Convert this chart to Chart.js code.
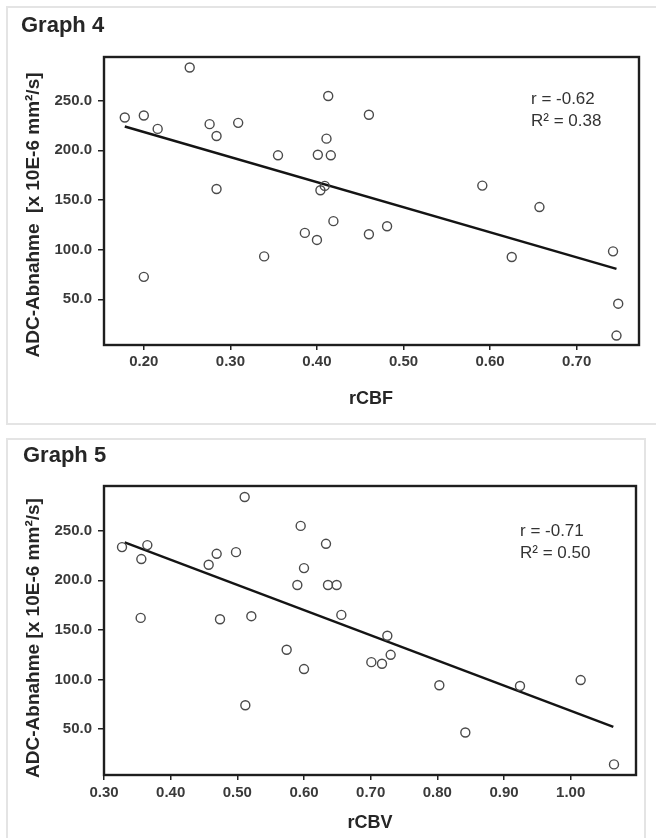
<!DOCTYPE html>
<html>
<head>
<meta charset="utf-8">
<script src="https://cdn.jsdelivr.net/npm/chart.js@4"></script>
<style>
  body { margin: 0; background: #fff; font-family: "Liberation Sans", Arial, sans-serif; }
  #page { position: relative; width: 656px; height: 838px; overflow: hidden; }
  .frame { position: absolute; border: 2px solid #e4e4e4; box-sizing: border-box; }
  .box { position: absolute; left: 0; width: 656px; }
  .gtitle { position: absolute; font-weight: bold; font-size: 22px; color: #262626; }
  .ytitle { position: absolute; font-weight: bold; font-size: 19px; color: #262626; white-space: pre;
            transform: translate(-50%, -50%) rotate(-90deg); }
  .xtitle { position: absolute; font-weight: bold; font-size: 18px; color: #262626; transform: translate(-50%, -50%); }
  .note { position: absolute; font-size: 17px; color: #333; line-height: 22px; }
</style>
</head>
<body>
<div id="page">
  <div class="frame" style="left:6px; top:6px; width:660px; height:419px;"></div>
  <div class="frame" style="left:6px; top:438px; width:640px; height:420px;"></div>

  <div class="box" style="top:0; height:425px;"><canvas id="chart4"></canvas></div>
  <div class="box" style="top:430px; height:408px;"><canvas id="chart5"></canvas></div>

  <div class="gtitle" style="left:21px; top:12px;">Graph 4</div>
  <div class="ytitle" style="left:33px; top:215px;">ADC-Abnahme  [x 10E-6 mm²/s]</div>
  <div class="xtitle" style="left:371px; top:398px;">rCBF</div>
  <div class="note" style="left:531px; top:88px;">r = -0.62<br>R² = 0.38</div>

  <div class="gtitle" style="left:23px; top:442px;">Graph 5</div>
  <div class="ytitle" style="left:33px; top:638px;">ADC-Abnahme [x 10E-6 mm²/s]</div>
  <div class="xtitle" style="left:370px; top:822px;">rCBV</div>
  <div class="note" style="left:520px; top:520px;">r = -0.71<br>R² = 0.50</div>
</div>
<script>
// Graph 4: rCBF vs ADC decrease
const cbf = [0.178, 0.200, 0.216, 0.253, 0.276, 0.284, 0.309, 0.284, 0.339, 0.355,
             0.200, 0.386, 0.400, 0.401, 0.416, 0.411, 0.413, 0.404, 0.409, 0.419,
             0.460, 0.460, 0.481, 0.591, 0.625, 0.657, 0.742, 0.748, 0.746];
const adcCbf = [233.1, 235.1, 221.6, 283.4, 226.4, 214.5, 227.7, 161.1, 93.2, 195.0,
                72.6, 116.9, 109.8, 195.6, 195.0, 211.8, 254.7, 159.8, 164.2, 128.7,
                235.8, 115.5, 123.6, 164.5, 92.6, 142.9, 98.3, 45.6, 13.5];
const fitCbfX = [0.178, 0.746];
const fitCbfY = [224.0, 80.6];
const cbfTicks = [0.20, 0.30, 0.40, 0.50, 0.60, 0.70];

// Graph 5: rCBV vs ADC decrease
const cbv = [0.327, 0.365, 0.356, 0.355, 0.457, 0.469, 0.474, 0.498, 0.511, 0.521,
             0.512, 0.574, 0.595, 0.590, 0.600, 0.600, 0.633, 0.636, 0.649, 0.656,
             0.725, 0.701, 0.717, 0.730, 0.803, 0.842, 0.924, 1.015, 1.065];
const adcCbv = [233.6, 235.6, 221.5, 162.1, 215.8, 226.8, 160.7, 228.5, 284.2, 163.8,
                73.8, 129.9, 255.0, 195.3, 212.4, 110.4, 236.9, 195.3, 195.3, 165.1,
                144.0, 117.4, 115.8, 124.8, 94.0, 46.3, 93.3, 99.3, 14.1];
const fitCbvX = [0.331, 1.064];
const fitCbvY = [238.3, 52.0];
const cbvTicks = [0.30, 0.40, 0.50, 0.60, 0.70, 0.80, 0.90, 1.00];

const adcTicks = [50, 100, 150, 200, 250];

const frameBox = {
  id: 'frameBox',
  afterDraw(chart) {
    const { ctx, chartArea: a } = chart;
    ctx.save();
    ctx.strokeStyle = '#1e1e1e';
    ctx.lineWidth = 2.4;
    ctx.strokeRect(a.left, a.top, a.right - a.left, a.bottom - a.top);
    ctx.restore();
  }
};

function makeChart(id, xs, ys, fx, fy, xTicks, xMin, xMax, yMin, yMax, pad, xLabelPad) {
  const points = xs.map((x, i) => ({ x, y: ys[i] }));
  const fit = fx.map((x, i) => ({ x, y: fy[i] }));
  const tickFont = { family: '"Liberation Sans", Arial, sans-serif', size: 15, weight: 'bold' };
  return new Chart(document.getElementById(id), {
    type: 'scatter',
    data: {
      datasets: [
        {
          data: fit,
          showLine: true,
          borderColor: '#141414',
          borderWidth: 2.4,
          pointRadius: 0,
          order: 2,
        },
        {
          data: points,
          pointRadius: 4.5,
          pointBorderWidth: 1.4,
          pointBorderColor: '#4a4a4a',
          pointBackgroundColor: 'rgba(255,255,255,0)',
          order: 1,
        },
      ],
    },
    options: {
      responsive: true,
      maintainAspectRatio: false,
      animation: false,
      layout: { padding: pad },
      plugins: { legend: { display: false }, tooltip: { enabled: false } },
      scales: {
        x: {
          type: 'linear',
          min: xMin,
          max: xMax,
          afterBuildTicks: (s) => { s.ticks = xTicks.map((v) => ({ value: v })); },
          afterFit: (s) => { s.height = 40; },
          ticks: {
            color: '#3a3a3a',
            font: tickFont,
            padding: xLabelPad,
            maxRotation: 0,
            callback: (v) => v.toFixed(2),
          },
          grid: { drawOnChartArea: false, drawTicks: true, tickLength: 5, color: '#222', lineWidth: 1.5 },
          border: { display: false },
        },
        y: {
          type: 'linear',
          min: yMin,
          max: yMax,
          afterBuildTicks: (s) => { s.ticks = adcTicks.map((v) => ({ value: v })); },
          afterFit: (s) => { s.width = 104; },
          ticks: {
            color: '#3a3a3a',
            font: tickFont,
            padding: 6,
            callback: (v) => v.toFixed(1),
          },
          grid: { drawOnChartArea: false, drawTicks: true, tickLength: 6, color: '#222', lineWidth: 1.5 },
          border: { display: false },
        },
      },
    },
    plugins: [frameBox],
  });
}

makeChart('chart4', cbf, adcCbf, fitCbfX, fitCbfY, cbfTicks, 0.154, 0.772, 4, 294,
  { left: 0, top: 57, right: 17, bottom: 40 }, 3);
makeChart('chart5', cbv, adcCbv, fitCbvX, fitCbvY, cbvTicks, 0.30, 1.098, 3.4, 295.3,
  { left: 0, top: 56, right: 20, bottom: 23 }, 4);
</script>
</body>
</html>
